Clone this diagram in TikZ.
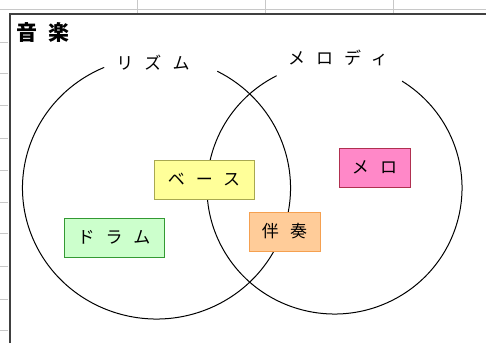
\documentclass[tikz,border=0pt]{standalone}
\usepackage{fontspec}
\newfontfamily\jp[LetterSpace=65]{Noto Sans CJK JP}
\newfontfamily\jptitle[LetterSpace=55]{Noto Sans CJK JP}
\definecolor{gridgray}{HTML}{C8C8C8}
\definecolor{framegray}{HTML}{404040}
\definecolor{yelfill}{HTML}{FFFF99}
\definecolor{yeldraw}{HTML}{A8A850}
\definecolor{grnfill}{HTML}{CCFFCC}
\definecolor{grndraw}{HTML}{339933}
\definecolor{orgfill}{HTML}{FFCC99}
\definecolor{orgdraw}{HTML}{F5A050}
\definecolor{pnkfill}{HTML}{FF88C8}
\definecolor{pnkdraw}{HTML}{B03050}
\tikzset{
  labelbox/.style={draw, line width=1pt, minimum height=39pt, inner sep=0pt, font=\jp\fontsize{17pt}{17pt}\selectfont},
  setline/.style={line width=1pt, black},
  circlabel/.style={inner sep=0pt, font=\jp\fontsize{17pt}{17pt}\selectfont}
}
\begin{document}
\begin{tikzpicture}[x=1pt,y=1pt]
\useasboundingbox (0,0) rectangle (486,343);
\fill[white] (0,0) rectangle (486,343);
% spreadsheet grid
\draw[gridgray, line width=0.8pt] (0,333.5) -- (486,333.5);
\foreach \gx in {137,265,393} \draw[gridgray, line width=0.8pt] (\gx,343) -- (\gx,329);
\foreach \gy in {42,73,105,138,170,202,233,266,299,330} \draw[gridgray, line width=0.8pt] (0,343-\gy) -- (8,343-\gy);
% frame
\draw[framegray, line width=2pt] (9.5,0) -- (9.5,329) -- (486,329);
% title
\node[anchor=west, inner sep=0pt, font=\jptitle\bfseries\fontsize{21pt}{21pt}\selectfont] (title) at (16,310) {音楽};
% sets
\coordinate (L) at (156.5,155);
\coordinate (R) at (334.5,155);
\draw[setline] ([shift={(113:134pt and 131pt)}]L) arc[start angle=113, end angle=423, x radius=134pt, y radius=131pt];
\draw[setline] ([shift={(117:127.5pt and 126pt)}]R) arc[start angle=117, end angle=418, x radius=127.5pt, y radius=126pt];
\node[circlabel] (rhythm) at (153,280) {リズム};
\node[circlabel] (melody) at (338,285) {メロディ};
% boxes
\node[labelbox, fill=yelfill, draw=yeldraw, minimum width=100pt] (bass) at (204,163.5) {ベース};
\node[labelbox, fill=grnfill, draw=grndraw, minimum width=100pt] (drum) at (114,105.5) {ドラム};
\node[labelbox, fill=orgfill, draw=orgdraw, minimum width=71pt] (accomp) at (284.5,111.5) {伴奏};
\node[labelbox, fill=pnkfill, draw=pnkdraw, minimum width=71pt] (mero) at (374.5,175.5) {メロ};
\end{tikzpicture}
\end{document}
